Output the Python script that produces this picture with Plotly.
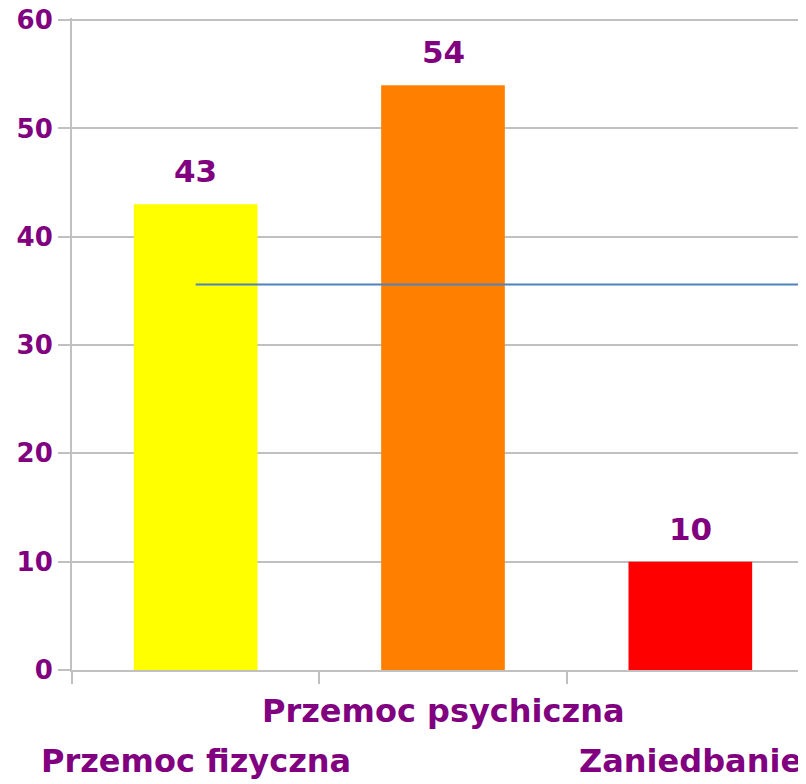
import plotly.graph_objects as go

CATEGORIES = ["Przemoc fizyczna", "Przemoc psychiczna", "Zaniedbanie"]
VALUES = [43, 54, 10]
BAR_COLORS = ["#FFFF00", "#FF8000", "#FF0000"]
AVERAGE = 35.6
Y_TICKS = [0, 10, 20, 30, 40, 50, 60]

PURPLE = "#800080"
GRID = "#c0c0c0"
FONT = "DejaVu Sans"

x_pos = list(range(len(CATEGORIES)))

fig = go.Figure()
fig.add_trace(go.Bar(x=x_pos, y=VALUES, width=0.5,
                     marker=dict(color=BAR_COLORS, line=dict(width=0)),
                     showlegend=False, hoverinfo="skip"))
# average line, from the first category centre to the right edge
fig.add_trace(go.Scatter(x=[x_pos[0], len(CATEGORIES) - 0.5], y=[AVERAGE, AVERAGE],
                         mode="lines", line=dict(color="#4f81bd", width=2),
                         showlegend=False, hoverinfo="skip"))

# value labels above bars
for x, v in zip(x_pos, VALUES):
    fig.add_annotation(x=x, y=v, xref="x", yref="y", text="<b>%d</b>" % v,
                       showarrow=False, yanchor="bottom", yshift=13,
                       font=dict(family=FONT, size=31, color=PURPLE))

# staggered category labels
shifts = [-70, -20, -70]
for x, name, s in zip(x_pos, CATEGORIES, shifts):
    fig.add_annotation(x=x, y=0, xref="x", yref="paper", text="<b>%s</b>" % name,
                       showarrow=False, yanchor="top", yshift=s,
                       font=dict(family=FONT, size=32, color=PURPLE))

fig.update_layout(width=806, height=784,
                  margin=dict(l=64, r=0, t=10, b=122),
                  paper_bgcolor="white", plot_bgcolor="white",
                  bargap=0.5)
fig.update_xaxes(range=[-0.5, len(CATEGORIES) - 0.5], tickvals=[-0.5, 0.5, 1.5, 2.5],
                 showticklabels=False, ticks="outside", ticklen=12,
                 tickcolor=GRID, tickwidth=2, showgrid=False, zeroline=False,
                 showline=True, linecolor=GRID, linewidth=2, automargin=False)
fig.update_yaxes(range=[0, 60.2], tickvals=Y_TICKS, ticks="outside", ticklen=12,
                 tickcolor=GRID, tickwidth=2, showgrid=True, gridcolor=GRID,
                 gridwidth=2, zeroline=False, showline=True, linecolor=GRID,
                 linewidth=2, ticklabelstandoff=0, ticklabeloverflow="allow",
                 automargin=False,
                 tickfont=dict(family=FONT, size=26, color=PURPLE, weight="bold"))

fig.write_html("out.html")
